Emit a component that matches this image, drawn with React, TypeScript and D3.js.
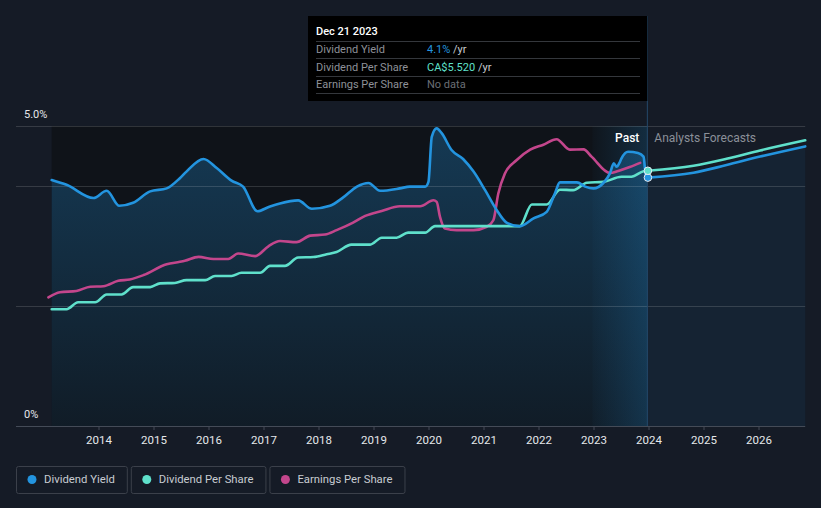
import * as d3 from "d3";
import React, { useEffect, useRef } from "react";

// [year, value] pairs
const yieldPast: [number, number][] = [
  [2013.14, 4.1], [2013.41, 4.02], [2013.9, 3.8], [2014.14, 3.92], [2014.37, 3.67],
  [2014.62, 3.72], [2014.93, 3.91], [2015.23, 3.96], [2015.47, 4.13], [2015.59, 4.24],
  [2015.9, 4.45], [2016.14, 4.3], [2016.41, 4.09], [2016.62, 3.99], [2016.88, 3.58],
  [2017.11, 3.66], [2017.29, 3.71], [2017.62, 3.76], [2017.87, 3.62], [2018.2, 3.67],
  [2018.44, 3.81], [2018.69, 3.99], [2018.9, 4.05], [2019.11, 3.92], [2019.47, 3.96],
  [2019.65, 3.99], [2019.93, 3.99], [2019.99, 4.07], [2020.05, 4.82], [2020.14, 4.96],
  [2020.23, 4.88], [2020.41, 4.6], [2020.62, 4.45], [2020.81, 4.24], [2021.02, 3.93],
  [2021.23, 3.6], [2021.41, 3.39], [2021.65, 3.33], [2021.9, 3.46], [2022.14, 3.57],
  [2022.29, 3.88], [2022.38, 4.06], [2022.69, 4.06], [2022.84, 3.99], [2022.99, 3.96],
  [2023.17, 4.05], [2023.29, 4.21], [2023.36, 4.38], [2023.41, 4.32], [2023.46, 4.38],
  [2023.5, 4.46], [2023.62, 4.57], [2023.8, 4.55], [2023.9, 4.49], [2023.95, 4.13],
  [2023.98, 4.14],
];
const yieldForecast: [number, number][] = [
  [2023.98, 4.14], [2024.81, 4.22], [2025.41, 4.35], [2026.02, 4.49], [2026.84, 4.66],
];

const dpsPast: [number, number][] = [
  [2013.14, 2.53], [2013.41, 2.53], [2013.62, 2.68], [2013.93, 2.68], [2014.14, 2.85],
  [2014.41, 2.85], [2014.62, 3.01], [2014.93, 3.01], [2015.11, 3.09], [2015.38, 3.1],
  [2015.59, 3.16], [2015.93, 3.16], [2016.11, 3.25], [2016.41, 3.25], [2016.59, 3.32],
  [2016.93, 3.32], [2017.11, 3.47], [2017.38, 3.47], [2017.62, 3.65], [2017.9, 3.66],
  [2018.14, 3.72], [2018.32, 3.77], [2018.59, 3.93], [2018.93, 3.93], [2019.14, 4.08],
  [2019.41, 4.08], [2019.62, 4.19], [2019.93, 4.19], [2020.11, 4.33], [2021.65, 4.33],
  [2021.87, 4.8], [2022.14, 4.8], [2022.38, 5.12], [2022.62, 5.11], [2022.87, 5.27],
  [2023.17, 5.29], [2023.5, 5.4], [2023.68, 5.4], [2023.9, 5.52], [2023.98, 5.53],
];
const dpsForecast: [number, number][] = [
  [2023.98, 5.53], [2024.81, 5.64], [2025.41, 5.79], [2026.02, 5.97], [2026.84, 6.19],
];

const epsPast: [number, number][] = [
  [2013.08, 4.95], [2013.29, 5.15], [2013.59, 5.2], [2013.84, 5.36], [2014.08, 5.38],
  [2014.35, 5.59], [2014.56, 5.64], [2014.81, 5.81], [2015.23, 6.23], [2015.47, 6.32],
  [2015.56, 6.36], [2015.81, 6.51], [2016.08, 6.43], [2016.35, 6.43], [2016.53, 6.64],
  [2016.84, 6.54], [2017.08, 6.92], [2017.29, 7.12], [2017.59, 7.08], [2017.84, 7.33],
  [2018.11, 7.37], [2018.32, 7.54], [2018.62, 7.83], [2018.84, 8.09], [2019.14, 8.28],
  [2019.47, 8.46], [2019.84, 8.46], [2020.08, 8.69], [2020.14, 8.63], [2020.2, 8.05],
  [2020.29, 7.6], [2020.5, 7.54], [2020.81, 7.54], [2021.05, 7.67], [2021.17, 7.92],
  [2021.26, 8.95], [2021.38, 9.72], [2021.59, 10.23], [2021.84, 10.64], [2022.08, 10.83],
  [2022.32, 11.04], [2022.56, 10.64], [2022.81, 10.65], [2022.96, 10.36], [2023.29, 9.74],
  [2023.44, 9.82], [2023.65, 9.97], [2023.84, 10.13],
];

const yearTicks = [2014, 2015, 2016, 2017, 2018, 2019, 2020, 2021, 2022, 2023, 2024, 2025, 2026];
const gridValues = [5, 4, 2];
const today = 2023.97;
const pastStart = 2022.97;
const chartEnd = 2026.84;

const legendItems = [
  { label: "Dividend Yield", color: "#2394df" },
  { label: "Dividend Per Share", color: "#5fe0cb" },
  { label: "Earnings Per Share", color: "#c3468c" },
];

const tooltipRows = [
  { label: "Dividend Yield", value: "4.1%", unit: " /yr", color: "#2394df" },
  { label: "Dividend Per Share", value: "CA$5.520", unit: " /yr", color: "#5fe0cb" },
  { label: "Earnings Per Share", value: "No data", unit: "", color: "#6b6f76" },
];

const W = 821;
const H = 508;
const FONT = "Roboto, 'Noto Sans', sans-serif";

const App: React.FC = () => {
  const ref = useRef<SVGSVGElement>(null);

  useEffect(() => {
    document.body.style.margin = "0";
    document.body.style.background = "#151b26";
    if (!ref.current) return;

    const x = d3.scaleLinear().domain([2013, 2027]).range([44, 814]);
    const yYield = d3.scaleLinear().domain([0, 5]).range([426, 126]);
    const yDps = d3.scaleLinear().domain([0, 6.5]).range([426, 126]);
    const yEps = d3.scaleLinear().domain([0, 11.55]).range([426, 126]);

    const svg = d3.select(ref.current);
    svg.selectAll("*").remove();

    const defs = svg.append("defs");
    const fillGrad = defs
      .append("linearGradient")
      .attr("id", "fillGrad")
      .attr("gradientUnits", "userSpaceOnUse")
      .attr("x1", 0).attr("x2", 0)
      .attr("y1", 126).attr("y2", 426);
    fillGrad.append("stop").attr("offset", 0).attr("stop-color", "#2394df").attr("stop-opacity", 0.3);
    fillGrad.append("stop").attr("offset", 1).attr("stop-color", "#2394df").attr("stop-opacity", 0.07);

    const bandGrad = defs
      .append("linearGradient")
      .attr("id", "bandGrad")
      .attr("x1", 0).attr("y1", 0).attr("x2", 1).attr("y2", 0);
    bandGrad.append("stop").attr("offset", 0).attr("stop-color", "#2394df").attr("stop-opacity", 0.02);
    bandGrad.append("stop").attr("offset", 1).attr("stop-color", "#2394df").attr("stop-opacity", 0.2);

    svg.append("rect").attr("width", W).attr("height", H).attr("fill", "#151b26");

    // past region darker background
    svg
      .append("rect")
      .attr("x", x(yieldPast[0][0]))
      .attr("y", 126)
      .attr("width", x(today) - x(yieldPast[0][0]))
      .attr("height", 300)
      .attr("fill", "#0f1319");

    const area = d3
      .area<[number, number]>()
      .x((d) => x(d[0]))
      .y0(426)
      .y1((d) => yYield(d[1]))
      .curve(d3.curveMonotoneX);

    svg.append("path").attr("d", area(yieldPast)).attr("fill", "url(#fillGrad)");
    svg.append("path").attr("d", area(yieldForecast)).attr("fill", "#2394df").attr("fill-opacity", 0.07);

    // last year highlight band
    svg
      .append("rect")
      .attr("x", x(pastStart))
      .attr("y", 126)
      .attr("width", x(today) - x(pastStart))
      .attr("height", 300)
      .attr("fill", "url(#bandGrad)");

    // grid
    svg
      .selectAll("line.grid")
      .data(gridValues)
      .enter()
      .append("line")
      .attr("x1", 16)
      .attr("x2", x(chartEnd))
      .attr("y1", (d) => yYield(d) + 0.5)
      .attr("y2", (d) => yYield(d) + 0.5)
      .attr("stroke", "#ffffff")
      .attr("stroke-opacity", 0.14);

    // today line
    svg
      .append("line")
      .attr("x1", x(today)).attr("x2", x(today))
      .attr("y1", 16).attr("y2", 426)
      .attr("stroke", "#24496b")
      .attr("stroke-width", 1);

    // x axis
    const axis = svg.append("g");
    axis
      .append("line")
      .attr("x1", 16).attr("x2", x(chartEnd))
      .attr("y1", 426.5).attr("y2", 426.5)
      .attr("stroke", "#444b57");
    const ticks = axis.selectAll("g.tick").data(yearTicks).enter().append("g");
    ticks
      .append("line")
      .attr("x1", (d) => x(d)).attr("x2", (d) => x(d))
      .attr("y1", 426).attr("y2", 430)
      .attr("stroke", "#444b57");
    ticks
      .append("text")
      .attr("x", (d) => x(d))
      .attr("y", 444)
      .attr("text-anchor", "middle")
      .attr("fill", "#e6e8eb")
      .style("font-size", "11.5px")
      .style("font-family", FONT)
      .text((d) => d);

    // y labels
    [
      { v: 5, t: "5.0%" },
      { v: 0, t: "0%" },
    ].forEach((l) => {
      svg
        .append("text")
        .attr("x", 24)
        .attr("y", yYield(l.v) - 8)
        .attr("fill", "#e6e8eb")
        .style("font-size", "11px")
        .style("font-family", FONT)
        .text(l.t);
    });

    const line = (y: d3.ScaleLinear<number, number>) =>
      d3
        .line<[number, number]>()
        .x((d) => x(d[0]))
        .y((d) => y(d[1]))
        .curve(d3.curveMonotoneX);

    const drawLine = (data: [number, number][], y: d3.ScaleLinear<number, number>, color: string) =>
      svg
        .append("path")
        .attr("d", line(y)(data))
        .attr("fill", "none")
        .attr("stroke", color)
        .attr("stroke-width", 2.6)
        .attr("stroke-linejoin", "round")
        .attr("stroke-linecap", "round");

    drawLine(epsPast, yEps, legendItems[2].color);
    drawLine(dpsPast, yDps, legendItems[1].color);
    drawLine(yieldPast, yYield, legendItems[0].color);
    drawLine(yieldForecast, yYield, legendItems[0].color);
    drawLine(dpsForecast, yDps, legendItems[1].color);

    // markers
    const lastYield = yieldPast[yieldPast.length - 1];
    const lastDps = dpsPast[dpsPast.length - 1];
    svg
      .append("circle")
      .attr("cx", x(lastYield[0])).attr("cy", yYield(lastYield[1])).attr("r", 3.8)
      .attr("fill", legendItems[0].color).attr("stroke", "#e8eef5").attr("stroke-width", 1);
    svg
      .append("circle")
      .attr("cx", x(lastDps[0])).attr("cy", yDps(lastDps[1])).attr("r", 3.8)
      .attr("fill", legendItems[1].color).attr("stroke", "#e8eef5").attr("stroke-width", 1);

    // Past / Analysts Forecasts
    svg
      .append("text")
      .attr("x", x(today) - 8)
      .attr("y", 142)
      .attr("text-anchor", "end")
      .attr("fill", "#ffffff")
      .style("font-size", "12px")
      .style("font-weight", 500)
      .style("font-family", FONT)
      .text("Past");
    svg
      .append("text")
      .attr("x", x(today) + 7)
      .attr("y", 142)
      .attr("fill", "#8b9099")
      .style("font-size", "12px")
      .style("font-family", FONT)
      .text("Analysts Forecasts");

    // tooltip
    const tip = svg.append("g");
    tip.append("rect").attr("x", 308).attr("y", 16).attr("width", x(today) - 308).attr("height", 85).attr("fill", "#000000");
    tip
      .append("text")
      .attr("x", 316).attr("y", 35)
      .attr("fill", "#ffffff")
      .style("font-size", "11px")
      .style("font-weight", 500)
      .style("font-family", FONT)
      .text("Dec 21 2023");
    [41.5, 58.5, 76.5, 93.5].forEach((yy) => {
      tip.append("line").attr("x1", 316).attr("x2", 640).attr("y1", yy).attr("y2", yy).attr("stroke", "#34373c");
    });
    tooltipRows.forEach((r, i) => {
      const base = 53 + i * 17.5;
      tip
        .append("text")
        .attr("x", 316).attr("y", base)
        .attr("fill", "#8e9198")
        .style("font-size", "11px")
        .style("font-family", FONT)
        .text(r.label);
      const t = tip
        .append("text")
        .attr("x", 427).attr("y", base)
        .style("font-size", "11px")
        .style("font-family", FONT);
      t.append("tspan").attr("fill", r.color).text(r.value);
      t.append("tspan").attr("fill", "#c9ccd1").text(r.unit);
    });

    // legend
    let lx = 16;
    legendItems.forEach((item) => {
      const g = svg.append("g");
      const txt = g
        .append("text")
        .attr("x", lx + 28)
        .attr("y", 483)
        .attr("fill", "#c8ccd2")
        .style("font-size", "11.3px")
        .style("font-family", FONT)
        .text(item.label);
      const tw = (txt.node() as SVGTextElement).getComputedTextLength();
      const bw = tw + 40;
      g.insert("rect", "text")
        .attr("x", lx + 0.5).attr("y", 466.5)
        .attr("width", bw).attr("height", 27)
        .attr("rx", 2)
        .attr("fill", "none")
        .attr("stroke", "#3b404a");
      g.append("circle").attr("cx", lx + 16).attr("cy", 479.5).attr("r", 4.5).attr("fill", item.color);
      lx += bw + 4;
    });
  }, []);

  return (
    <div style={{ width: W, height: H, background: "#151b26" }}>
      <svg ref={ref} width={W} height={H} style={{ display: "block" }}></svg>
    </div>
  );
};

export default App;
